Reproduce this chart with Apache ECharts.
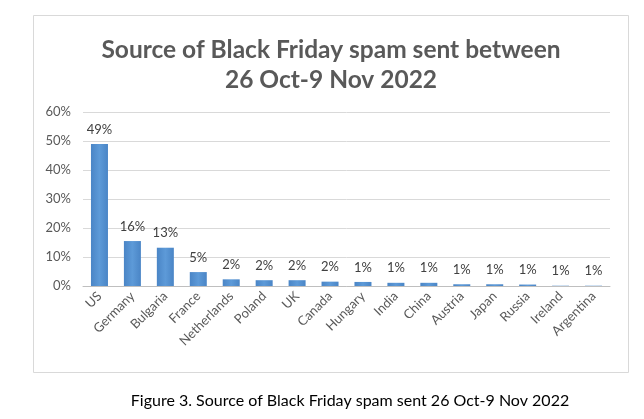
<!DOCTYPE html>
<html>
<head>
<meta charset="utf-8">
<script src="https://cdn.jsdelivr.net/npm/echarts@6/dist/echarts.min.js"></script>
<style>
html,body{margin:0;padding:0;background:#fff;}
#chart{width:644px;height:419px;}
</style>
</head>
<body>
<div id="chart"></div>
<script>
var categories = ['US','Germany','Bulgaria','France','Netherlands','Poland','UK','Canada','Hungary','India','China','Austria','Japan','Russia','Ireland','Argentina'];
var values = [49, 15.5, 13.2, 4.8, 2.3, 2.0, 2.0, 1.5, 1.4, 1.1, 1.1, 0.6, 0.6, 0.5, 0.1, 0.1];
var labelTexts = ['49%','16%','13%','5%','2%','2%','2%','2%','1%','1%','1%','1%','1%','1%','1%','1%'];
var yTicks = [0, 10, 20, 30, 40, 50, 60];
var titleText = 'Source of Black Friday spam sent between\n26 Oct-9 Nov 2022';
var captionText = 'Figure 3. Source of Black Friday spam sent 26 Oct-9 Nov 2022';

var FONT = 'Lato';
var chart = echarts.init(document.getElementById('chart'));
chart.setOption({
  animation: false,
  backgroundColor: '#fff',
  title: {
    text: titleText,
    left: 326, top: 30, textAlign: 'center',
    textStyle: {fontFamily: FONT, fontWeight: 'bold', fontSize: 24.5, color: '#595959', lineHeight: 30}
  },
  graphic: [
    {type: 'rect', shape: {x: 33.5, y: 15.5, width: 595, height: 357}, style: {fill: 'none', stroke: '#d9d9d9', lineWidth: 1}, z: -1},
    {type: 'text', x: 350, y: 393, style: {text: captionText, font: '16px Lato', fill: '#000', textAlign: 'center'}}
  ],
  grid: {left: 83, right: 34, top: 112, bottom: 133},
  xAxis: {
    type: 'category', data: categories,
    axisTick: {show: false},
    axisLine: {lineStyle: {color: '#bfbfbf', width: 1}},
    axisLabel: {rotate: 45, fontFamily: FONT, fontSize: 13, color: '#595959', margin: 8, interval: 0}
  },
  yAxis: {
    type: 'value', min: yTicks[0], max: yTicks[yTicks.length-1], interval: 10,
    axisLine: {show: false}, axisTick: {show: false},
    splitLine: {lineStyle: {color: '#d9d9d9'}},
    axisLabel: {formatter: '{value}%', fontFamily: FONT, fontSize: 13, color: '#595959', margin: 12}
  },
  series: [{
    type: 'bar', data: values, barWidth: 17,
    itemStyle: {color: new echarts.graphic.LinearGradient(0, 0, 1, 0, [
      {offset: 0, color: '#4a85c6'}, {offset: 0.5, color: '#5d9ad8'}, {offset: 1, color: '#4a85c6'}
    ])},
    label: {show: true, position: 'top', distance: 8, fontFamily: FONT, fontSize: 13, color: '#404040',
      formatter: function(p){ return labelTexts[p.dataIndex]; }}
  }]
});
</script>
</body>
</html>
